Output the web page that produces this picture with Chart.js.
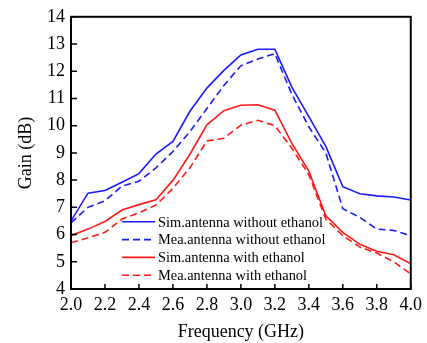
<!DOCTYPE html>
<html>
<head>
<meta charset="utf-8">
<script src="https://cdn.jsdelivr.net/npm/chart.js@4.4.1/dist/chart.umd.min.js"></script>
<style>
  html, body { margin: 0; padding: 0; background: #fff; }
  #wrap { width: 427px; height: 343px; }
</style>
</head>
<body>
<div id="wrap"><canvas id="c" width="427" height="343"></canvas></div>
<script>
const freqs = [2.0, 2.1, 2.2, 2.3, 2.4, 2.5, 2.6, 2.7, 2.8, 2.9, 3.0, 3.1, 3.2, 3.3, 3.4, 3.5, 3.6, 3.7, 3.8, 3.9, 4.0];
const simWithout = [6.5, 7.52, 7.62, 7.92, 8.24, 8.96, 9.42, 10.53, 11.38, 12.03, 12.6, 12.81, 12.81, 11.42, 10.33, 9.24, 7.76, 7.5, 7.42, 7.38, 7.27];
const meaWithout = [6.43, 7.0, 7.24, 7.78, 7.96, 8.45, 9.05, 9.78, 10.63, 11.48, 12.2, 12.45, 12.65, 11.15, 9.96, 9.0, 6.95, 6.63, 6.2, 6.15, 5.96];
const simWith = [5.96, 6.2, 6.48, 6.9, 7.1, 7.28, 7.99, 8.95, 10.03, 10.55, 10.75, 10.77, 10.57, 9.35, 8.33, 6.69, 6.08, 5.64, 5.39, 5.26, 4.93];
const meaWith = [5.7, 5.88, 6.08, 6.57, 6.8, 7.08, 7.7, 8.45, 9.44, 9.54, 10.02, 10.2, 10.0, 9.17, 8.2, 6.57, 5.96, 5.54, 5.32, 5.0, 4.55];
const seriesLabels = ['Sim.antenna without ethanol', 'Mea.antenna without ethanol', 'Sim.antenna with ethanol', 'Mea.antenna with ethanol'];

const FONT = "'Liberation Serif', 'Times New Roman', serif";
const BLUE = '#1a1aff';
const RED = '#ff1a1a';
const DASH = [7, 4];

function pts(ys) {
  return freqs.map((x, i) => ({ x, y: ys[i] }));
}

function ds(label, ys, color, dashed) {
  return {
    label,
    data: pts(ys),
    borderColor: color,
    backgroundColor: color,
    borderWidth: 1.6,
    borderDash: dashed ? DASH : [],
    pointRadius: 0,
    tension: 0,
    fill: false
  };
}

// frame + inward ticks
const framePlugin = {
  id: 'frame',
  afterDatasetsDraw(chart) {
    const { ctx, chartArea: a, scales: { x, y } } = chart;
    ctx.save();
    ctx.strokeStyle = '#000';
    ctx.lineWidth = 2;
    ctx.strokeRect(a.left, a.top, a.right - a.left, a.bottom - a.top);
    ctx.lineWidth = 1.5;
    ctx.beginPath();
    x.ticks.forEach(t => {
      const px = x.getPixelForValue(t.value);
      ctx.moveTo(px, a.bottom);
      ctx.lineTo(px, a.bottom - 5);
    });
    y.ticks.forEach(t => {
      const py = y.getPixelForValue(t.value);
      ctx.moveTo(a.left, py);
      ctx.lineTo(a.left + 6, py);
    });
    ctx.stroke();
    ctx.restore();
  }
};

// legend inside the plot, lower middle
const legendPlugin = {
  id: 'insideLegend',
  afterDatasetsDraw(chart) {
    const { ctx, chartArea: a } = chart;
    ctx.save();
    ctx.font = '14.4px ' + FONT;
    ctx.textBaseline = 'middle';
    ctx.fillStyle = '#000';
    chart.data.datasets.forEach((d, i) => {
      const yy = a.top + 205 + i * 17.8;
      const x0 = a.left + 51;
      ctx.strokeStyle = d.borderColor;
      ctx.lineWidth = 1.6;
      ctx.setLineDash(d.borderDash || []);
      ctx.beginPath();
      ctx.moveTo(x0, yy);
      ctx.lineTo(x0 + 33, yy);
      ctx.stroke();
      ctx.setLineDash([]);
      ctx.fillText(d.label, x0 + 36, yy + 1);
    });
    ctx.restore();
  }
};

new Chart(document.getElementById('c'), {
  type: 'line',
  data: {
    datasets: [
      ds(seriesLabels[0], simWithout, BLUE, false),
      ds(seriesLabels[1], meaWithout, BLUE, true),
      ds(seriesLabels[2], simWith, RED, false),
      ds(seriesLabels[3], meaWith, RED, true)
    ]
  },
  options: {
    responsive: false,
    animation: false,
    layout: { padding: { left: 0, right: 15, top: 14, bottom: 0 } },
    plugins: {
      legend: { display: false },
      tooltip: { enabled: false }
    },
    scales: {
      x: {
        type: 'linear',
        min: 2,
        max: 4,
        grid: { display: false, drawTicks: false },
        border: { display: false },
        ticks: {
          stepSize: 0.2,
          padding: 5,
          color: '#000',
          font: { family: FONT, size: 18 },
          maxRotation: 0,
          callback: v => v.toFixed(1)
        },
        title: {
          display: true,
          text: 'Frequency (GHz)',
          color: '#000',
          font: { family: FONT, size: 18 },
          padding: { top: 0, bottom: 0 }
        },
        afterFit(s) { s.height = 54; }
      },
      y: {
        min: 4,
        max: 14,
        grid: { display: false, drawTicks: false },
        border: { display: false },
        ticks: {
          stepSize: 1,
          padding: 6,
          color: '#000',
          font: { family: FONT, size: 18 }
        },
        title: {
          display: true,
          text: 'Gain (dB)',
          color: '#000',
          font: { family: FONT, size: 18 },
          padding: { top: 15, bottom: 0 }
        },
        afterFit(s) { s.width = 71; }
      }
    }
  },
  plugins: [framePlugin, legendPlugin]
});
</script>
</body>
</html>
